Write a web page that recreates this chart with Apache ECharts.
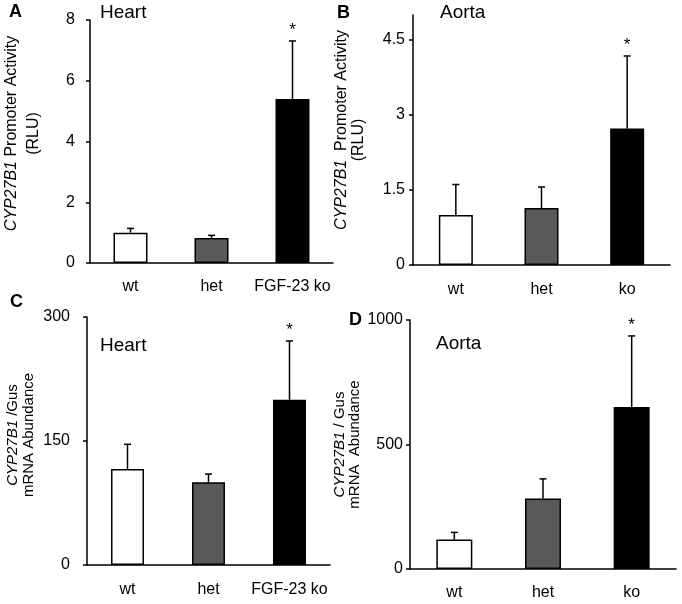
<!DOCTYPE html>
<html>
<head>
<meta charset="utf-8">
<script src="https://cdn.jsdelivr.net/npm/echarts@6/dist/echarts.min.js"></script>
<style>
  html, body { margin: 0; padding: 0; background: #fff; }
  #chart { width: 682px; height: 604px; }
</style>
</head>
<body>
<div id="chart"></div>
<script>
// groups
const groupsLong = ['wt', 'het', 'FGF-23 ko'];
const groupsShort = ['wt', 'het', 'ko'];

// A: heart promoter activity (RLU)
const heartPromoter = [1.0, 0.82, 5.4];
const heartPromoterSd = [0.14, 0.09, 1.91];
// B: aorta promoter activity (RLU)
const aortaPromoter = [1.0, 1.14, 2.73];
const aortaPromoterSd = [0.61, 0.42, 1.45];
// C: heart CYP27B1/Gus mRNA
const heartMrna = [116, 100, 200];
const heartMrnaSd = [30, 10, 71];
// D: aorta CYP27B1/Gus mRNA
const aortaMrna = [118, 283, 651];
const aortaMrnaSd = [29, 79, 285];

const significant = [false, false, true];
const barColors = ['#ffffff', '#595959', '#000000'];

const ticksA = [0, 2, 4, 6, 8];
const ticksB = [0, 1.5, 3, 4.5];
const ticksC = [0, 150, 300];
const ticksD = [0, 500, 1000];

const font = '"Liberation Sans", Arial, sans-serif';

const panels = [
    {
        letter: 'A', title: 'Heart', cats: groupsLong, mean: heartPromoter, sd: heartPromoterSd,
        ticks: ticksA, max: 8,
        name: '{i|CYP27B1} Promoter Activity\n(RLU)', nameSize: 16, nameLine: 22, nameGap: 45, namePad: [0, 0, 0, 16],
        grid: { left: 87, top: 20, width: 246, height: 243 }, barWidth: 34,
        labelMargin: 15, xMargin: 16,
        letterPos: { left: 9, top: 3 }, titlePos: { left: 100, top: 3 },
    },
    {
        letter: 'B', title: 'Aorta', cats: groupsShort, mean: aortaPromoter, sd: aortaPromoterSd,
        ticks: ticksB, max: 5,
        name: '{s|CYP27B1}  Promoter Activity\n(RLU)', nameSize: 16, nameLine: 17, nameGap: 46, namePad: [0, 0, 0, 0],
        grid: { left: 413, top: 15, width: 257, height: 250 }, barWidth: 34,
        labelMargin: 8, xMargin: 17,
        letterPos: { left: 337, top: 4 }, titlePos: { left: 440, top: 3 },
    },
    {
        letter: 'C', title: 'Heart', cats: groupsLong, mean: heartMrna, sd: heartMrnaSd,
        ticks: ticksC, max: 300,
        name: '{i|CYP27B1} /Gus\nmRNA Abundance', nameSize: 15, nameLine: 16, nameGap: 50, namePad: [0, 0, 0, 12],
        grid: { left: 87, top: 317, width: 243, height: 248 }, barWidth: 33,
        labelMargin: 17, xMargin: 17,
        letterPos: { left: 10, top: 293 }, titlePos: { left: 100, top: 336 },
    },
    {
        letter: 'D', title: 'Aorta', cats: groupsShort, mean: aortaMrna, sd: aortaMrnaSd,
        ticks: ticksD, max: 1000,
        name: '{i|CYP27B1} / Gus\nmRNA  Abundance', nameSize: 15, nameLine: 15, nameGap: 48, namePad: [0, 0, 0, 0],
        grid: { left: 410, top: 320, width: 266, height: 249 }, barWidth: 36,
        labelMargin: 7, xMargin: 16,
        letterPos: { left: 349, top: 311 }, titlePos: { left: 436, top: 334 },
    },
];

const grid = [];
const xAxis = [];
const yAxis = [];
const series = [];
const title = [];

panels.forEach((p, i) => {
    grid.push(p.grid);
    title.push({
        text: p.letter, left: p.letterPos.left, top: p.letterPos.top, padding: 0,
        textStyle: { fontFamily: font, fontSize: 18, fontWeight: 'bold', color: '#000' },
    });
    title.push({
        text: p.title, left: p.titlePos.left, top: p.titlePos.top, padding: 0,
        textStyle: { fontFamily: font, fontSize: 19, fontWeight: 'normal', color: '#000' },
    });
    xAxis.push({
        type: 'category',
        gridIndex: i,
        data: p.cats,
        axisLine: { lineStyle: { color: '#000', width: 1.5 } },
        axisTick: { show: false },
        axisLabel: { color: '#000', fontFamily: font, fontSize: 16, margin: p.xMargin, interval: 0, hideOverlap: false },
    });
    const italic = { fontStyle: 'italic', fontWeight: 'normal', fontFamily: font, fontSize: p.nameSize, color: '#000', lineHeight: p.nameLine };
    yAxis.push({
        type: 'value',
        gridIndex: i,
        min: 0,
        max: p.max,
        splitLine: { show: false },
        axisLine: { show: true, lineStyle: { color: '#000', width: 1.5 } },
        axisTick: { show: true, length: 4, lineStyle: { color: '#000', width: 1.5 }, customValues: p.ticks },
        axisLabel: {
            color: '#000', fontFamily: font, fontSize: 16, margin: p.labelMargin,
            customValues: p.ticks, formatter: (v) => String(v),
        },
        name: p.name,
        nameLocation: 'middle',
        nameRotate: 90,
        nameGap: p.nameGap,
        nameTextStyle: {
            color: '#000', fontFamily: font, fontSize: p.nameSize, fontWeight: 'normal', lineHeight: p.nameLine,
            padding: p.namePad,
            rich: {
                i: italic,
                // first line of panel B sits higher than the second one
                s: Object.assign({}, italic, { padding: [0, 0, 0, 20] }),
            },
        },
    });
    series.push({
        type: 'bar',
        xAxisIndex: i,
        yAxisIndex: i,
        barWidth: p.barWidth,
        silent: true,
        data: p.mean.map((v, k) => ({
            value: v,
            itemStyle: { color: barColors[k], borderColor: '#000', borderWidth: 1.5 },
        })),
    });
    series.push({
        type: 'custom',
        xAxisIndex: i,
        yAxisIndex: i,
        silent: true,
        z: 3,
        data: p.mean.map((v, k) => [k, v, v + p.sd[k], significant[k] ? 1 : 0]),
        encode: { x: 0, y: [1, 2] },
        renderItem: (params, api) => {
            const base = api.coord([api.value(0), api.value(1)]);
            const top = api.coord([api.value(0), api.value(2)]);
            const style = { stroke: '#000', lineWidth: 1.5 };
            const children = [
                { type: 'line', shape: { x1: base[0], y1: base[1], x2: top[0], y2: top[1] }, style },
                { type: 'line', shape: { x1: top[0] - 3.5, y1: top[1], x2: top[0] + 3.5, y2: top[1] }, style },
            ];
            if (api.value(3)) {
                children.push({
                    type: 'text',
                    style: {
                        text: '*', x: top[0], y: top[1] - 2,
                        align: 'center', verticalAlign: 'bottom',
                        fontFamily: font, fontSize: 17, fill: '#000',
                    },
                });
            }
            return { type: 'group', children };
        },
    });
});

const chart = echarts.init(document.getElementById('chart'), null, { renderer: 'canvas' });
chart.setOption({
    animation: false,
    backgroundColor: '#fff',
    title,
    grid,
    xAxis,
    yAxis,
    series,
});
window.addEventListener('resize', chart.resize);
</script>
</body>
</html>
